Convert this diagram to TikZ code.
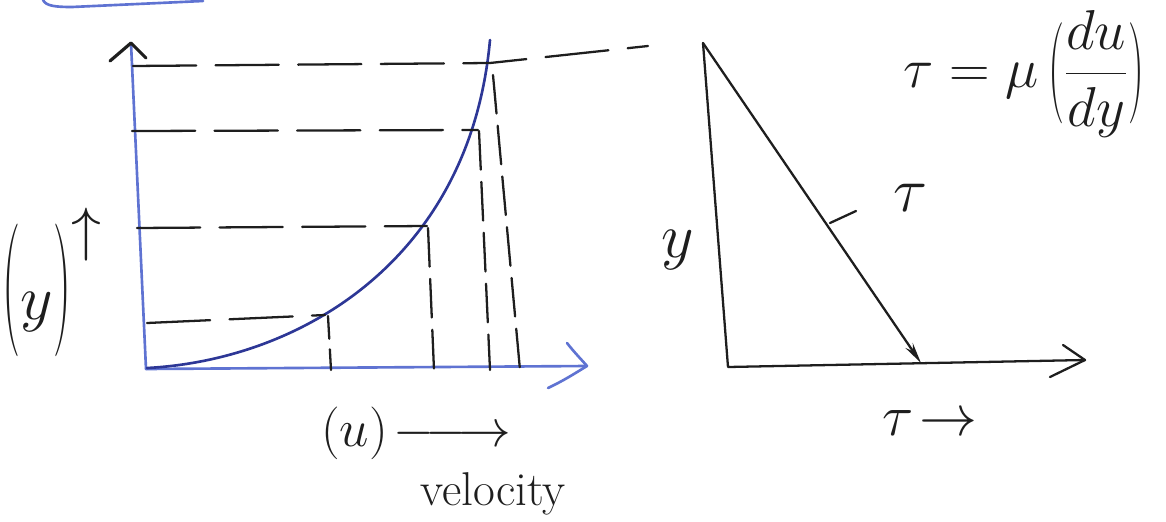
\RequirePackage{fix-cm}
\documentclass[tikz,border=0pt]{standalone}
\usepackage{graphicx}
\usetikzlibrary{arrows.meta}
\definecolor{axisblue}{RGB}{95,115,210}
\definecolor{curveblue}{RGB}{45,55,150}
\definecolor{ink}{RGB}{30,30,30}
\begin{document}
\begin{tikzpicture}[x=0.02cm,y=-0.02cm,
  axisline/.style={draw=axisblue,line width=1.5pt,line cap=round},
  curveline/.style={draw=curveblue,line width=1.5pt,line cap=round},
  inkline/.style={draw=ink,line width=1.3pt,line cap=round,line join=round},
  hdash/.style={inkline,dash pattern=on 36pt off 11pt},
  vdash/.style={inkline,dash pattern=on 22pt off 7pt},
  lbl/.style={text=ink,inner sep=0pt}]
\useasboundingbox (0,0) rectangle (1166,521);

% cut-off heading frame
\draw[axisline] (43,0) .. controls (46,6) and (55,7) .. (72,7) -- (203,1);

% ---------- left plot ----------
\coordinate (O) at (146,369);
\coordinate (Ytop) at (131,43);
\coordinate (Xend) at (587,366);
\draw[axisline] (O) -- (Ytop);
\draw[axisline] (O) -- (Xend);
\draw[inkline,line width=1.8pt] (110,61) -- (Ytop) -- (146,58);
\draw[axisline] (567,343) .. controls (574,352) and (580,358) .. (Xend);
\draw[axisline] (548,388) .. controls (565,380) and (577,372) .. (Xend);

% curve
\draw[curveline] (147,368) .. controls (300,360) and (470,260) .. (490,40);

% horizontal dashed lines
\draw[hdash] (133,66) -- (490,63) -- (648,46);
\draw[hdash] (132,131) -- (478,130);
\draw[hdash] (137,228) -- (427,226);
\draw[hdash] (147,323) -- (325,315);

% vertical dashed lines
\draw[vdash,dash pattern=on 13pt off 6pt on 40pt off 6pt] (328,316) -- (331,370);
\draw[vdash] (428,228) -- (434,370);
\draw[vdash] (479,131) -- (490,370);
\draw[vdash] (493,75) -- (520,370);

% labels
\node[lbl,font=\fontsize{36}{40}\selectfont] (ylab) at (52,282)
  {\raisebox{-2pt}{\scalebox{0.8}[2.1]{(}}$y$\raisebox{-2pt}{\scalebox{0.8}[2.1]{)}}\raisebox{40pt}{\fontsize{34}{36}\selectfont$\uparrow$}};
\node[lbl,font=\fontsize{30}{34}\selectfont] (ulab) at (416,433) {$(u)\!\relbar\joinrel\longrightarrow$};
\node[lbl,font=\fontsize{27}{30}\selectfont] (vel) at (493,494) {velocity};

% ---------- right plot ----------
\coordinate (Rtop) at (703,43);
\coordinate (R0) at (728,367);
\coordinate (Rx) at (1085,360);
\coordinate (Rd) at (921,363);
\draw[inkline] (Rtop) -- (R0) -- (Rx);
\draw[inkline] (1063,345) -- (Rx) -- (1050,377);
\draw[inkline,-{Stealth[length=12pt,width=5pt]}] (Rtop) -- (Rd);

\node[lbl,font=\fontsize{32}{36}\selectfont] (eq) at (1024,74)
  {$\tau=\mu\,\raisebox{-6pt}{\scalebox{0.8}[1.8]{(}}\displaystyle\frac{du}{dy}\raisebox{-6pt}{\scalebox{0.8}[1.8]{)}}$};
\node[lbl,font=\fontsize{36}{40}\selectfont] (tau) at (910,198) {$\tau$};
\coordinate (tp) at (856,211);
\coordinate (tq) at (830,223);
\draw[inkline] (tp) -- (tq);
\node[lbl,font=\fontsize{36}{40}\selectfont] (ry) at (678,250) {$y$};
\node[lbl,font=\fontsize{33}{36}\selectfont] (rt) at (930,423) {$\tau\!\rightarrow$};
\end{tikzpicture}
\end{document}
